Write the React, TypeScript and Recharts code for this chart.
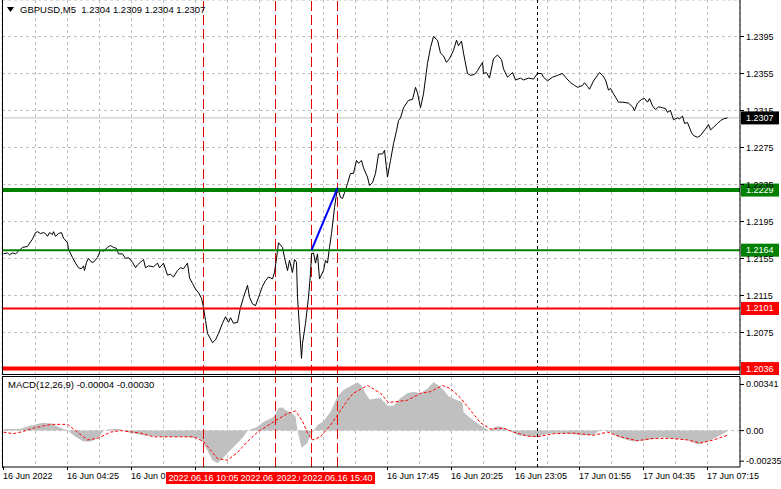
import React from "react";
import {
  Area,
  CartesianGrid,
  ComposedChart,
  Line,
  ReferenceLine,
  XAxis,
  YAxis,
} from "recharts";

const FONT = "'Liberation Sans', Arial, sans-serif";

// bar index (0 = 16 Jun 01:45, M5) and close price
const pricePath: [number, number][] = [
  [0, 1.216], [2, 1.2161], [3, 1.2159], [4.5, 1.2161], [6, 1.216], [7.5, 1.2163], [9.5, 1.2167],
  [12, 1.2168], [13.5, 1.2173], [14.5, 1.2176], [16, 1.2183], [17, 1.2184], [18.5, 1.2182],
  [20, 1.2183], [21, 1.2182], [22, 1.2179], [23, 1.2183], [24.5, 1.2181], [25, 1.2184], [26, 1.2179],
  [27.5, 1.2182], [29, 1.2183], [30, 1.2177], [32, 1.2172], [32.5, 1.2165], [34.5, 1.2156],
  [36, 1.215], [37.5, 1.2145], [39, 1.2144], [40, 1.2147], [40.5, 1.2142], [41.5, 1.2151],
  [42.5, 1.2155], [44, 1.2151], [45, 1.2151], [47, 1.2156], [48.5, 1.2164], [50, 1.2163],
  [52, 1.2167], [53.5, 1.2169], [55, 1.2167], [56.5, 1.2166], [57.5, 1.216], [59.5, 1.216],
  [61, 1.2155], [62.5, 1.2156], [64.5, 1.2151], [66, 1.2145], [67, 1.2148], [68.5, 1.2151],
  [70, 1.2154], [71, 1.2145], [72.5, 1.2147], [75, 1.2146], [77, 1.215], [78, 1.2145], [80, 1.215],
  [82, 1.2137], [83.5, 1.2138], [85, 1.2135], [87, 1.2142], [88.5, 1.2145], [90, 1.2144],
  [91, 1.2147], [92, 1.215], [93, 1.2134], [94.5, 1.2128], [96, 1.2122], [97.5, 1.2118],
  [99, 1.2112], [100, 1.2102], [101, 1.2088], [102, 1.2074], [104.5, 1.2064], [106, 1.2067],
  [107.5, 1.2074], [109.5, 1.2085], [111, 1.2092], [112.5, 1.2086], [113.5, 1.2091], [115, 1.2085],
  [117, 1.2086], [118.5, 1.2102], [120, 1.2113], [122, 1.2126], [123, 1.2113], [124.5, 1.2106],
  [126, 1.2104], [127.5, 1.2113], [129.5, 1.2125], [131, 1.2131], [132.5, 1.2135], [134.5, 1.2133],
  [135.5, 1.214], [136.5, 1.2155], [137.5, 1.2172], [139.5, 1.2167], [140.5, 1.2156], [142, 1.2142],
  [143, 1.2153], [144.5, 1.214], [145.5, 1.2154], [146.5, 1.2151], [147, 1.2113], [148, 1.208],
  [149, 1.2047], [149.5, 1.2063], [151, 1.2085], [152.5, 1.2113], [153.5, 1.2139], [154, 1.216],
  [155, 1.2161], [156, 1.215], [157, 1.216], [158, 1.2133], [160, 1.2142], [161, 1.2153],
  [162, 1.215], [163, 1.2167], [164, 1.2182], [165.5, 1.221], [167, 1.2232], [168.5, 1.2221],
  [169.5, 1.222], [170.5, 1.2226], [172, 1.2236], [173.5, 1.2247], [175, 1.2247], [176.5, 1.2261],
  [177.5, 1.2258], [179, 1.2261], [180, 1.2253], [182, 1.2243], [183, 1.2234], [184.5, 1.2237],
  [186, 1.2247], [187.5, 1.2268], [189.5, 1.2268], [190.5, 1.2272], [192, 1.2243], [193.5, 1.2261],
  [195, 1.2279], [196.5, 1.2293], [197.5, 1.2304], [198.5, 1.2307], [200, 1.2318], [202.5, 1.2326],
  [204.5, 1.2327], [206, 1.234], [207, 1.2334], [208.5, 1.2318], [210, 1.2333], [212, 1.2366],
  [213.5, 1.2383], [215, 1.2395], [217, 1.2391], [218.5, 1.2377], [220, 1.2374], [221.5, 1.2367],
  [223, 1.2371], [225, 1.238], [226.5, 1.2391], [227.5, 1.2385], [229, 1.239], [230, 1.2377],
  [232, 1.2355], [233.5, 1.2353], [235.5, 1.2354], [237, 1.2358], [239.5, 1.2367], [240, 1.2355],
  [241.5, 1.2356], [243, 1.235], [245, 1.2371], [247, 1.2375], [249, 1.237], [250, 1.236],
  [252, 1.2351], [253, 1.2353], [254.5, 1.2356], [256, 1.2348], [258.5, 1.235], [260, 1.2348],
  [262.5, 1.235], [265, 1.2349], [267, 1.2355], [269, 1.2355], [270, 1.2351], [272, 1.2347],
  [274.5, 1.2351], [277, 1.2353], [279.5, 1.2355], [281, 1.2351], [283.5, 1.2345], [285, 1.2343],
  [287, 1.234], [289.5, 1.2342], [290.5, 1.2345], [292, 1.2341], [293, 1.2338], [295, 1.2347],
  [298, 1.2356], [299.5, 1.2353], [301, 1.2348], [302.5, 1.2337], [303.5, 1.2339], [305, 1.2333],
  [307.5, 1.2324], [309.5, 1.2324], [312.5, 1.2323], [314.5, 1.2319], [315.5, 1.2315], [317, 1.2323],
  [319, 1.2327], [320.5, 1.2328], [322, 1.2324], [323, 1.2328], [324.5, 1.232], [326, 1.2316],
  [327.5, 1.2319], [329.5, 1.2318], [331, 1.2317], [332, 1.2313], [333.5, 1.2315], [335, 1.2305],
  [337, 1.2307], [338, 1.2306], [339.5, 1.2309], [340.5, 1.2301], [342, 1.2302], [344, 1.2291],
  [345, 1.2288], [347, 1.2286], [348.5, 1.2288], [351, 1.2295], [352.5, 1.23], [353.5, 1.2294],
  [355, 1.2297], [357, 1.2301], [358.5, 1.2304], [360, 1.2306], [362, 1.2307],
];

// MACD main (histogram) and signal, bar index -> value
const macdHist: [number, number][] = [
  [0, 0.0001], [8, 0.0001], [13, 0.0003], [18, 0.00045], [20, 0.0005], [24, 0.00045], [28, 0.0002],
  [32, 0], [36, -0.0004], [40, -0.0007], [44, -0.0007], [48, -0.0004], [50, 0], [54, 0.0001],
  [58, 0.0001], [62, -0.0001], [70, -0.0003], [80, -0.0004], [90, -0.0004], [98, -0.0005],
  [100, -0.0008], [104.5, -0.0019], [107, -0.0021], [109.5, -0.0018], [113.5, -0.00125],
  [117, -0.0008], [120, -0.0004], [122, 0], [127, 0.00024], [130, 0.00056], [135, 0.00088],
  [137.5, 0.00144], [139.5, 0.0015], [141, 0.0013], [143.5, 0.0012], [146, 0.0009], [147, 0],
  [149, -0.0011], [152, -0.0008], [153, -0.0004], [155, 0], [157, 0.00035], [160, 0.0006],
  [163.5, 0.0012], [167, 0.0022], [170, 0.0026], [174, 0.0029], [177, 0.0031], [179, 0.0029],
  [181, 0.0024], [183, 0.002], [188.5, 0.0021], [192, 0.0016], [195, 0.0016], [198.5, 0.0021],
  [202, 0.0024], [205, 0.0025], [208.5, 0.0024], [212, 0.0027], [215, 0.0031], [217.5, 0.0029],
  [220, 0.0026], [222.5, 0.0022], [226, 0.002], [229.5, 0.0018], [230, 0.0012], [232.5, 0.0009],
  [236, 0.00056], [239.5, 0.00024], [242.5, 0.00003], [247, 0.0003], [250, 0.0002], [253.5, 0],
  [257, -0.0003], [263.5, -0.0004], [267, -0.0004], [272, -0.0002], [280, -0.00015],
  [288.5, -0.0003], [295, -0.0003], [298.5, 0.00005], [303.5, -0.0001], [307, -0.0004],
  [312, -0.0006], [315, -0.0007], [322, -0.0006], [328.5, -0.00042], [335, -0.0005], [342, -0.0006],
  [347, -0.0009], [352, -0.0007], [357, -0.0004], [362, -0.00004],
];

const macdSignal: [number, number][] = [
  [0, -0.0001], [5, -0.0002], [10, -0.00005], [15, 0.00016], [20, 0.0003], [24, 0.0004],
  [32, 0.0004], [37, -0.0001], [42, -0.0006], [47, -0.0005], [53.5, -0.0001], [58.5, 0],
  [68.5, -0.00016], [75, -0.0004], [88.5, -0.0004], [95, -0.0004], [100, -0.0007], [107, -0.0018],
  [112, -0.0019], [117, -0.0014], [122, -0.0007], [127, -0.0001], [135, 0.00056], [142, 0.0011],
  [146, 0.00127], [149.5, 0.0006], [152, -0.00016], [154.5, -0.0006], [158.5, -0.0004],
  [163.5, 0.00035], [167.5, 0.0011], [172, 0.00195], [175, 0.0024], [182, 0.0029], [188.5, 0.0024],
  [192.5, 0.0018], [202, 0.00195], [208.5, 0.0024], [213.5, 0.0025], [219.5, 0.0029],
  [223.5, 0.0027], [228.5, 0.0021], [233.5, 0.0013], [238.5, 0.0005], [243.5, 0.0001],
  [250, 0.00016], [255, -0.0001], [262, -0.00035], [267, -0.0004], [275, -0.0002], [285, -0.00016],
  [295, -0.0003], [302, -0.0001], [308.5, -0.0004], [317, -0.00065], [325, -0.0005],
  [333.5, -0.0005], [342, -0.0006], [348.5, -0.0008], [355, -0.0006], [362, -0.0003],
];

const priceTicks = [1.2075, 1.2115, 1.2155, 1.2195, 1.2235, 1.2275, 1.2315, 1.2355, 1.2395];
const macdTicks = [-0.00235, 0, 0.00341];
const timeTickBars = [0, 32, 64, 96, 128, 160, 192, 224, 256, 288, 320, 352];
const timeTickLabels = [
  "16 Jun 2022", "16 Jun 04:25", "16 Jun 07:05", "16 Jun 09:45", "16 Jun 12:25", "16 Jun 15:05",
  "16 Jun 17:45", "16 Jun 20:25", "16 Jun 23:05", "17 Jun 01:55", "17 Jun 04:35", "17 Jun 07:15",
];
const gridBars = [
  16, 32, 48, 64, 80, 96, 112, 128, 144, 160, 176, 192, 208, 224, 240, 256, 272, 288, 304, 320, 336, 352,
];

const levelPrices = [1.2229, 1.2164, 1.2101, 1.2036];
const lastPrice = 1.2307;
const markerBars = [100, 136, 154, 167];
const markerLabels = ["2022.06.16 10:05", "2022.06.16 13:05", "2022.06.16 14:35", "2022.06.16 15:40"];
const separatorBar = 267;
const trendStart = { bar: 154, price: 1.2164 };
const trendEnd = { bar: 167, price: 1.2231 };
const title = "GBPUSD,M5  1.2304 1.2309 1.2304 1.2307";
const macdTitle = "MACD(12,26,9) -0.00004 -0.00030";

// domains chosen so 1px lines land on whole pixels
const X_DOMAIN: [number, number] = [-0.75, 368.25];
const PRICE_DOMAIN: [number, number] = [1.202906, 1.243446];
const MACD_DOMAIN: [number, number] = [-0.002338, 0.003442];

function priceBadge(fill: string, text: string) {
  return (props: any) => {
    const vb = props.viewBox;
    const x = vb.x + vb.width + 1;
    return (
      <g>
        <rect x={x} y={vb.y - 6.5} width={38} height={13} fill={fill} />
        <text x={x + 5} y={vb.y} dominantBaseline="central" fill="#fff" fontSize={9} fontFamily={FONT}>
          {text}
        </text>
      </g>
    );
  };
}

function timeBadge(text: string) {
  return (props: any) => {
    const vb = props.viewBox;
    const y = vb.y + vb.height + 5;
    return (
      <g>
        <rect x={vb.x - 37.5} y={y} width={75} height={12} fill="#ff0000" />
        <text x={vb.x} y={y + 6} textAnchor="middle" dominantBaseline="central" fill="#fff" fontSize={9} fontFamily={FONT}>
          {text}
        </text>
      </g>
    );
  };
}

function MacdTick(props: any) {
  const { x, y, payload } = props;
  const v = payload.value as number;
  const dy = v > 0 ? 7 : v < 0 ? -6 : 0;
  return (
    <g>
      <line x1={x - 6} x2={x - 2} y1={y + dy} y2={y + dy} stroke="#000" />
      <text x={x} y={y + dy} dominantBaseline="central" fontSize={9} fontFamily={FONT} fill="#000">
        {v === 0 ? "0.00" : v.toFixed(5)}
      </text>
    </g>
  );
}

function TimeTick(props: any) {
  const { x, y, payload } = props;
  const i = timeTickBars.indexOf(payload.value);
  return (
    <text x={x - 0.5} y={y} dy="0.71em" fontSize={9} fontFamily={FONT} fill="#000">
      {timeTickLabels[i]}
    </text>
  );
}

export default function App() {
  const priceData = pricePath.map(([bar, price]) => ({ bar, price }));
  const histData = macdHist.map(([bar, value]) => ({ bar, value }));
  const signalData = macdSignal.map(([bar, value]) => ({ bar, value }));
  const levelStyle = [
    { color: "#008000", width: 4 },
    { color: "#008000", width: 2 },
    { color: "#ff0000", width: 2 },
    { color: "#ff0000", width: 4 },
  ];

  return (
    <div style={{ position: "absolute", left: 0, top: 0, width: 781, height: 489, background: "#fff" }}>
      <div style={{ position: "absolute", left: 0, top: 0 }}>
        <ComposedChart width={781} height={375} data={priceData} margin={{ top: 0, right: 0, bottom: 0, left: 2 }}>
          <XAxis dataKey="bar" type="number" domain={X_DOMAIN} ticks={gridBars} hide allowDataOverflow />
          <YAxis
            orientation="right"
            type="number"
            width={41}
            domain={PRICE_DOMAIN}
            ticks={priceTicks}
            interval={0}
            allowDataOverflow
            tickFormatter={(v: number) => v.toFixed(4)}
            tick={{ fontSize: 9, fill: "#000", fontFamily: FONT }}
            tickSize={4}
            tickMargin={2}
            tickLine={{ stroke: "#000" }}
            axisLine={{ stroke: "#000" }}
          />
          <CartesianGrid stroke="#c0c0c0" strokeDasharray="3 3" />
          <ReferenceLine y={lastPrice} stroke="#c0c0c0" />
          {markerBars.map((b) => (
            <ReferenceLine key={`m${b}`} x={b} stroke="#e00000" strokeDasharray="10 4" />
          ))}
          <ReferenceLine x={separatorBar} stroke="#000" strokeDasharray="3 3" />
          <Line
            dataKey="price"
            type="linear"
            stroke="#000"
            strokeWidth={1}
            dot={false}
            isAnimationActive={false}
          />
          {levelPrices.map((p, i) => (
            <ReferenceLine
              key={`l${p}`}
              y={p}
              stroke={levelStyle[i].color}
              strokeWidth={levelStyle[i].width}
              label={priceBadge(levelStyle[i].color, p.toFixed(4))}
            />
          ))}
          <ReferenceLine
            segment={[
              { x: trendStart.bar, y: trendStart.price },
              { x: trendEnd.bar, y: trendEnd.price },
            ]}
            stroke="#0000ff"
            strokeWidth={2}
          />
          <ReferenceLine y={lastPrice} stroke="none" label={priceBadge("#000", lastPrice.toFixed(4))} />
        </ComposedChart>
      </div>

      <div style={{ position: "absolute", left: 0, top: 377 }}>
        <ComposedChart width={781} height={112} margin={{ top: 0, right: 0, bottom: 0, left: 2 }}>
          <XAxis
            dataKey="bar"
            type="number"
            domain={X_DOMAIN}
            ticks={timeTickBars}
            interval={0}
            allowDataOverflow
            height={22}
            tick={<TimeTick />}
            tickSize={3}
            tickMargin={3}
            tickLine={{ stroke: "#000" }}
            axisLine={{ stroke: "#000" }}
          />
          <XAxis xAxisId="grid" dataKey="bar" type="number" domain={X_DOMAIN} ticks={gridBars} hide allowDataOverflow />
          <YAxis
            orientation="right"
            type="number"
            width={41}
            domain={MACD_DOMAIN}
            ticks={macdTicks}
            interval={0}
            allowDataOverflow
            tick={<MacdTick />}
            tickSize={4}
            tickMargin={2}
            tickLine={false}
            axisLine={{ stroke: "#000" }}
          />
          <CartesianGrid xAxisId="grid" horizontal={false} stroke="#c0c0c0" strokeDasharray="3 3" />
          <ReferenceLine y={0} stroke="#c0c0c0" strokeDasharray="3 3" />
          <Area
            data={histData}
            dataKey="value"
            type="linear"
            stroke="none"
            fill="#c0c0c0"
            fillOpacity={1}
            baseValue={0}
            isAnimationActive={false}
          />
          <Line
            data={signalData}
            dataKey="value"
            type="linear"
            stroke="#ff0000"
            strokeDasharray="3 2"
            strokeWidth={1}
            dot={false}
            isAnimationActive={false}
          />
          <ReferenceLine x={separatorBar} stroke="#000" strokeDasharray="3 3" />
          {markerBars.map((b) => (
            <ReferenceLine key={`t${b}`} x={b} stroke="#e00000" strokeDasharray="10 4" />
          ))}
        </ComposedChart>
      </div>

      {/* time badges above the axis labels */}
      <div style={{ position: "absolute", left: 0, top: 377, pointerEvents: "none" }}>
        <ComposedChart width={781} height={112} margin={{ top: 0, right: 41, bottom: 22, left: 2 }}>
          <XAxis dataKey="bar" type="number" domain={X_DOMAIN} hide allowDataOverflow />
          <YAxis type="number" domain={MACD_DOMAIN} hide allowDataOverflow />
          {markerBars.map((b, i) => (
            <ReferenceLine key={`b${b}`} x={b} stroke="none" label={timeBadge(markerLabels[i])} />
          ))}
        </ComposedChart>
      </div>

      {/* panel frames */}
      <div style={{ position: "absolute", left: 2, top: 0, width: 738, height: 375, borderLeft: "1px solid #000", borderBottom: "1px solid #000", boxSizing: "border-box", pointerEvents: "none" }} />
      <div style={{ position: "absolute", left: 2, top: 376, width: 738, height: 92, borderLeft: "1px solid #000", borderTop: "1px solid #000", boxSizing: "border-box", pointerEvents: "none" }} />

      <div style={{ position: "absolute", left: 7, top: 4, display: "flex", alignItems: "center", fontFamily: FONT, fontSize: 9.5, whiteSpace: "pre", color: "#000" }}>
        <svg width={8} height={6} style={{ marginRight: 5 }}>
          <polygon points="0,0 7,0 3.5,5" fill="#000" />
        </svg>
        {title}
      </div>
      <div style={{ position: "absolute", left: 8, top: 379, fontFamily: FONT, fontSize: 9.5, whiteSpace: "pre", color: "#000" }}>
        {macdTitle}
      </div>
    </div>
  );
}
